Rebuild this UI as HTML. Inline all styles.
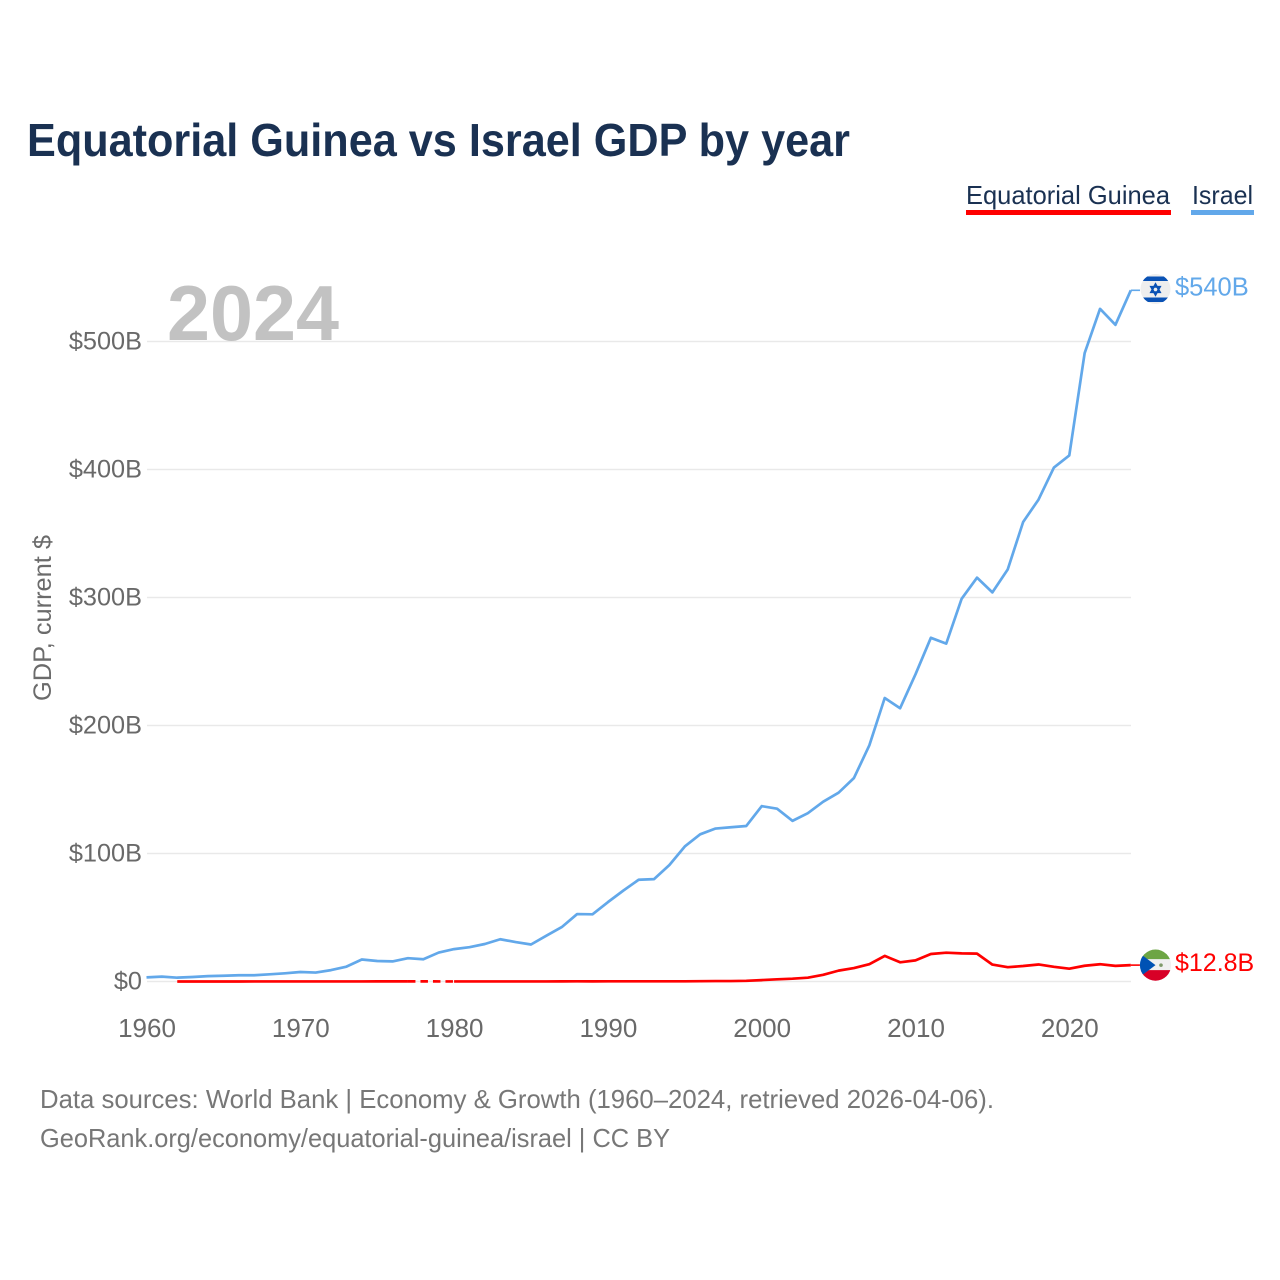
<!DOCTYPE html>
<html lang="en">
<head>
<meta charset="utf-8">
<title>Equatorial Guinea vs Israel GDP by year</title>
<style>
html,body{margin:0;padding:0;background:#fff;}
svg{display:block;font-family:"Liberation Sans",sans-serif;}
</style>
</head>
<body>
<svg id="chart" xmlns="http://www.w3.org/2000/svg" width="1280" height="1280" viewBox="0 0 1280 1280">
  <defs>
    <clipPath id="flag-clip"><circle cx="0" cy="0" r="15"/></clipPath>
    <clipPath id="flag-clip-large"><circle cx="0" cy="0" r="15.6"/></clipPath>
  </defs>
  <rect width="1280" height="1280" fill="#fff"/>
  <text x="27" y="156" font-size="46" font-weight="700" fill="#1a3152" textLength="823" lengthAdjust="spacingAndGlyphs">Equatorial Guinea vs Israel GDP by year</text>

  <g>
    <text x="966" y="204" font-size="26" fill="#1a3152" textLength="204" lengthAdjust="spacingAndGlyphs">Equatorial Guinea</text>
    <rect x="966" y="210" width="205" height="5" fill="#ff0000"/>
  </g>
  <g>
    <text x="1192" y="204" font-size="26" fill="#1a3152" textLength="61" lengthAdjust="spacingAndGlyphs">Israel</text>
    <rect x="1191" y="210" width="63" height="5" fill="#62a8ea"/>
  </g>

  <g id="grid"></g>
  <g id="y-ticks"></g>
  <g id="x-ticks"></g>

  <text x="167" y="340" font-size="78" font-weight="700" fill="#c2c2c2" textLength="172" lengthAdjust="spacingAndGlyphs">2024</text>
  <text transform="translate(51 701) rotate(-90)" font-size="25" fill="#6b6b6b" textLength="166" lengthAdjust="spacingAndGlyphs">GDP, current $</text>

  <g id="series"></g>
  <g id="end-markers"></g>

  <text x="40" y="1108" font-size="26" fill="#777777" textLength="954" lengthAdjust="spacingAndGlyphs">Data sources: World Bank | Economy &amp; Growth (1960–2024, retrieved 2026-04-06).</text>
  <text x="40" y="1147" font-size="26" fill="#777777" textLength="630" lengthAdjust="spacingAndGlyphs">GeoRank.org/economy/equatorial-guinea/israel | CC BY</text>
</svg>
<script>
var years = [1960,1961,1962,1963,1964,1965,1966,1967,1968,1969,1970,1971,1972,1973,1974,1975,1976,1977,1978,1979,1980,1981,1982,1983,1984,1985,1986,1987,1988,1989,1990,1991,1992,1993,1994,1995,1996,1997,1998,1999,2000,2001,2002,2003,2004,2005,2006,2007,2008,2009,2010,2011,2012,2013,2014,2015,2016,2017,2018,2019,2020,2021,2022,2023,2024];
var israelValues = [3.2,3.8,3.0,3.5,4.2,4.5,4.9,4.9,5.6,6.4,7.4,7.0,8.9,11.6,17.2,16.0,15.7,18.2,17.4,22.6,25.3,26.8,29.3,33.0,30.8,28.9,35.8,42.5,52.7,52.5,62.0,71.0,79.5,80.0,91.0,105.5,115.0,119.5,120.5,121.5,137.0,135.0,125.5,131.5,140.5,147.5,159.0,184.5,221.5,213.5,240.0,268.5,264.0,299.0,315.5,304.0,322.0,359.0,376.5,401.5,411.0,491.0,525.5,513.0,540.0];
var guineaValues = [null,null,0.01,0.01,0.02,0.02,0.02,0.03,0.03,0.03,0.03,0.04,0.04,0.05,0.06,0.08,0.09,0.1,null,null,0.05,0.05,0.05,0.05,0.05,0.05,0.06,0.08,0.15,0.1,0.13,0.13,0.15,0.15,0.15,0.15,0.25,0.35,0.35,0.55,1.1,1.7,2.2,3.0,5.2,8.5,10.5,13.5,20.0,15.0,16.5,21.5,22.5,22.0,21.8,13.2,11.2,12.1,13.3,11.5,10.0,12.3,13.5,12.2,12.8];
var yTickValues = [0,100,200,300,400,500];
var yTickLabels = ["$0","$100B","$200B","$300B","$400B","$500B"];
var xTickValues = [1960,1970,1980,1990,2000,2010,2020];
var xTickLabels = ["1960","1970","1980","1990","2000","2010","2020"];
var israelEndLabel = "$540B";
var guineaEndLabel = "$12.8B";

var NS = "http://www.w3.org/2000/svg";
function xScale(year) { return 146.5 + (year - 1960) * (984.3 / 64); }
function yScale(value) { return 981.5 - value * 1.28; }
function make(tag, attrs, parent) {
  var el = document.createElementNS(NS, tag);
  for (var k in attrs) { el.setAttribute(k, attrs[k]); }
  parent.appendChild(el);
  return el;
}

var gridGroup = document.getElementById("grid");
var yTickGroup = document.getElementById("y-ticks");
yTickValues.forEach(function (v, i) {
  var line = make("line", {x1: 147, x2: 1131, y1: yScale(v), y2: yScale(v), stroke: "#e9e9e9", "stroke-width": 1.5}, gridGroup);
  
  
  var label = make("text", {x: 142, y: yScale(v) + 8, "text-anchor": "end", "font-size": 25.3, fill: "#696969"}, yTickGroup);
  
  
  label.textContent = yTickLabels[i];
});

var xTickGroup = document.getElementById("x-ticks");
xTickValues.forEach(function (v, i) {
  var label = make("text", {x: xScale(v) + 0.5, y: 1037, "text-anchor": "middle", "font-size": 26, fill: "#696969"}, xTickGroup);
  
  
  label.textContent = xTickLabels[i];
});

function drawSeries(values, color, seriesName, parent) {
  var run = [];
  var lastPoint = null;
  function flush() {
    if (run.length > 1) {
      var solid = make("polyline", {points: run.join(" "), fill: "none", stroke: color, "stroke-width": 2.7, "stroke-linejoin": "round"}, parent);
      
      
      solid.setAttribute('data-series', seriesName);
    }
    run = [];
  }
  var gapOpen = false;
  values.forEach(function (v, i) {
    if (v === null) {
      if (lastPoint) { flush(); gapOpen = true; }
      return;
    }
    var point = [xScale(years[i]), yScale(v)];
    if (gapOpen) {
      var dashed = make("line", {x1: lastPoint[0], y1: lastPoint[1], x2: point[0], y2: point[1], stroke: color, "stroke-width": 2.7, "stroke-dasharray": "7.5 5"}, parent);
      
      
      gapOpen = false;
    }
    run.push(point.join(","));
    lastPoint = point;
  });
  flush();
  var stub = make("line", {x1: lastPoint[0], y1: lastPoint[1], x2: 1140, y2: lastPoint[1], stroke: color, "stroke-width": 1.6}, parent);
  
  
}
var seriesGroup = document.getElementById("series");
drawSeries(israelValues, "#62a8ea", "israel", seriesGroup);
drawSeries(guineaValues, "#ff0000", "equatorial-guinea", seriesGroup);

var markers = document.getElementById("end-markers");
function endLabel(value, text, color, size, offset, parent) {
  var label = make("text", {x: 1175, y: yScale(value) + offset, "font-size": size, fill: color}, parent);
  
  
  label.textContent = text;
}
var israelLast = israelValues[israelValues.length - 1];
var guineaLast = guineaValues[guineaValues.length - 1];

var israelFlag = make("g", {transform: "translate(1155.5 " + (yScale(israelLast) - 1.3) + ")"}, markers);


var ilClip = make("g", {"clip-path": "url(#flag-clip)"}, israelFlag);
make("rect", {x: -16, y: -16, width: 32, height: 32, fill: "#eeeeee"}, ilClip);
make("rect", {x: -16, y: -12.5, width: 32, height: 4.5, fill: "#0a52b5"}, ilClip);
make("rect", {x: -16, y: 8.5, width: 32, height: 4.5, fill: "#0a52b5"}, ilClip);
make("polygon", {points: "0,-4.9 4.5,3.2 -4.5,3.2", fill: "none", stroke: "#0a52b5", "stroke-width": 1.8}, ilClip);
make("polygon", {points: "0,5.9 4.5,-2.2 -4.5,-2.2", fill: "none", stroke: "#0a52b5", "stroke-width": 1.8}, ilClip);
endLabel(israelLast, israelEndLabel, "#62a8ea", 25.5, 5, markers);

var guineaFlag = make("g", {transform: "translate(1155.5 " + yScale(guineaLast) + ")"}, markers);


var gqClip = make("g", {"clip-path": "url(#flag-clip-large)"}, guineaFlag);
make("rect", {x: -17, y: -17, width: 34, height: 34, fill: "#f0f0f0"}, gqClip);
make("rect", {x: -17, y: -17, width: 34, height: 11, fill: "#6da544"}, gqClip);
make("rect", {x: -17, y: 5, width: 34, height: 12, fill: "#d80027"}, gqClip);
make("polygon", {points: "-16,-12 0,0 -16,12", fill: "#0052b4"}, gqClip);
make("circle", {cx: 5.5, cy: 0, r: 1.8, fill: "#7f9a6a"}, gqClip);
endLabel(guineaLast, guineaEndLabel, "#ff0000", 25, 6, markers);
</script>
</body>
</html>
